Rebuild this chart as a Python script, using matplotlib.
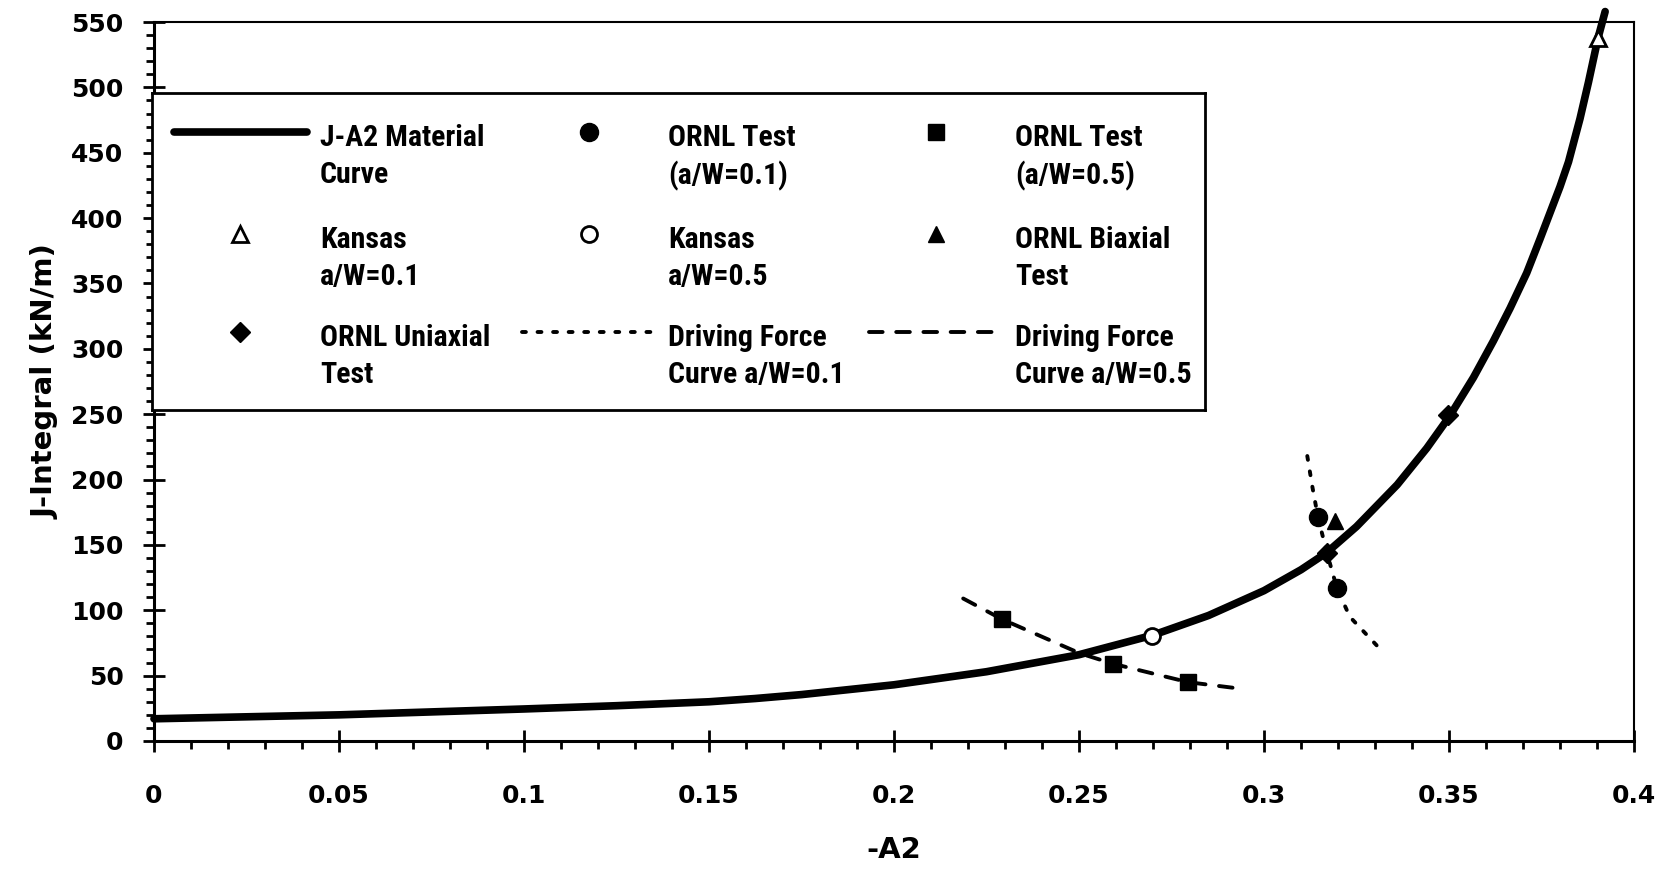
import matplotlib.pyplot as plt
from matplotlib import font_manager
from matplotlib.ticker import MultipleLocator, FuncFormatter

plt.rcParams['font.family'] = 'DejaVu Sans'
plt.rcParams['font.weight'] = 'bold'

# ---- data ----
curve_x = [0, 0.05, 0.10, 0.125, 0.15, 0.1625, 0.175, 0.20, 0.225, 0.25, 0.27,
           0.285, 0.30, 0.31, 0.3169, 0.325, 0.336, 0.344, 0.3503, 0.3566,
           0.362, 0.3665, 0.371, 0.3746, 0.380, 0.3823, 0.3854, 0.3877,
           0.3903, 0.3922]
curve_j = [17, 20, 24.5, 27, 30, 32.5, 35.5, 43, 53, 66, 81,
           96, 115, 131, 144, 164, 196, 224, 249, 278,
           306, 331, 358, 384, 424, 443, 476, 504,
           538, 558]

df01_x = [0.3117, 0.3131, 0.3146, 0.3170, 0.3197, 0.3232, 0.3305]
df01_j = [218, 194, 171, 144, 117, 95, 73]

df05_x = [0.2187, 0.2293, 0.2503, 0.2593, 0.2795, 0.2937]
df05_j = [109, 93, 67, 59, 45, 40]

ornl01_x = [0.3146, 0.3197]
ornl01_j = [171, 117]
ornl05_x = [0.2293, 0.2593, 0.2795]
ornl05_j = [93, 59, 45]
kansas01_x = [0.3903]
kansas01_j = [538]
kansas05_x = [0.2697]
kansas05_j = [80]
biaxial_x = [0.3192]
biaxial_j = [168]
uniaxial_x = [0.3169, 0.3497]
uniaxial_j = [144, 249]

x_ticks = [0, 0.05, 0.1, 0.15, 0.2, 0.25, 0.3, 0.35, 0.4]
y_ticks = list(range(0, 551, 50))

leg_labels = ['J-A2 Material\nCurve', 'ORNL Test\n(a/W=0.1)', 'ORNL Test\n(a/W=0.5)',
              'Kansas\na/W=0.1', 'Kansas\na/W=0.5', 'ORNL Biaxial\nTest',
              'ORNL Uniaxial\nTest', 'Driving Force\nCurve a/W=0.1',
              'Driving Force\nCurve a/W=0.5']

# ---- styles (used for plot and legend) ----
st_curve = dict(color='black', lw=5.5, ls='-', solid_capstyle='round',
                solid_joinstyle='round')
st_df01 = dict(color='black', lw=2.8, ls=(0, (1.0, 3.0)), dash_capstyle='round')
st_df05 = dict(color='black', lw=2.8, ls=(0, (3.5, 3.5)), dash_capstyle='round')
st_ornl01 = dict(ls='none', marker='o', ms=13, mfc='black', mec='black')
st_ornl05 = dict(ls='none', marker='s', ms=12, mfc='black', mec='black')
st_kansas01 = dict(ls='none', marker='^', ms=11, mfc='white', mec='black', mew=2)
st_kansas05 = dict(ls='none', marker='o', ms=11.5, mfc='white', mec='black', mew=2)
st_biaxial = dict(ls='none', marker='^', ms=11, mfc='black', mec='black')
st_uniaxial = dict(ls='none', marker='D', ms=10, mfc='black', mec='black')

# legend text is a narrow bold face in the original; use one if installed
installed = {f.name for f in font_manager.fontManager.ttflist}
leg_family, leg_size = 'Liberation Sans', 18.5
for name in ['Liberation Sans Narrow', 'Roboto Condensed', 'Open Sans Condensed']:
    if name in installed:
        leg_family, leg_size = name, 21.5
        break
leg_px = leg_size * 100 / 72
leg_linespacing = (36 - 0.21 * leg_px) / (0.72 * leg_px)

fig = plt.figure(figsize=(16.63, 8.73), dpi=100)
ax = fig.add_axes([154 / 1663, 132 / 873, 1480 / 1663, 719 / 873])

ax.plot(df01_x, df01_j, zorder=2, **st_df01)
ax.plot(df05_x, df05_j, zorder=2, **st_df05)
ax.plot(curve_x, curve_j, zorder=3, clip_on=False, **st_curve)
ax.plot(ornl01_x, ornl01_j, zorder=4, **st_ornl01)
ax.plot(ornl05_x, ornl05_j, zorder=4, **st_ornl05)
ax.plot(kansas01_x, kansas01_j, zorder=4, **st_kansas01)
ax.plot(kansas05_x, kansas05_j, zorder=4, **st_kansas05)
ax.plot(biaxial_x, biaxial_j, zorder=4, **st_biaxial)
ax.plot(uniaxial_x, uniaxial_j, zorder=4, **st_uniaxial)

ax.set_xlim(0, 0.4)
ax.set_ylim(0, 550)
ax.set_xticks(x_ticks)
ax.set_yticks(y_ticks)
ax.xaxis.set_minor_locator(MultipleLocator(0.01))
ax.yaxis.set_minor_locator(MultipleLocator(10))
ax.xaxis.set_major_formatter(FuncFormatter(lambda v, p: '%g' % round(v, 3)))

ax.tick_params(which='major', direction='inout', length=16, width=2,
               labelsize=18)
ax.tick_params(which='minor', direction='out', length=6, width=2)
ax.tick_params(axis='x', which='major', pad=23)
ax.tick_params(axis='y', which='major', pad=14)

for side in ['left', 'bottom']:
    ax.spines[side].set_linewidth(2.2)
for side in ['top', 'right']:
    ax.spines[side].set_linewidth(1.5)

ax.set_xlabel('-A2', fontsize=21, fontweight='bold')
ax.xaxis.set_label_coords(0.5, -0.132)
ax.set_ylabel('J-Integral (kN/m)', fontsize=21, fontweight='bold')
ax.yaxis.set_label_coords(-0.064, 0.5)

# ---- legend box (drawn in pixel units of the box) ----
lax = fig.add_axes([152 / 1663, (873 - 410) / 873, 1053 / 1663, 317 / 873])
lax.set_zorder(5)
lax.set_xlim(152, 1205)
lax.set_ylim(410, 93)
lax.set_xticks([])
lax.set_yticks([])
for s in lax.spines.values():
    s.set_linewidth(2)

leg_styles = [st_curve, st_ornl01, st_ornl05,
              st_kansas01, st_kansas05, st_biaxial,
              st_uniaxial, st_df01, st_df05]
col_x = [174, 522, 869]
row_y = [135, 237, 335]
handle_len = 133

for i, (lab, st) in enumerate(zip(leg_labels, leg_styles)):
    x0 = col_x[i % 3]
    y0 = row_y[i // 3]
    if st.get('ls') == 'none':
        lax.plot([x0 + handle_len / 2], [y0 - 3], **st)
    else:
        lax.plot([x0, x0 + handle_len], [y0 - 3, y0 - 3], **st)
    lax.text(x0 + 146, y0 - 0.36 * leg_px, lab, va='top', ha='left',
             family=leg_family, fontweight='bold', fontsize=leg_size,
             linespacing=leg_linespacing)

fig.savefig('out.png', dpi=100)
